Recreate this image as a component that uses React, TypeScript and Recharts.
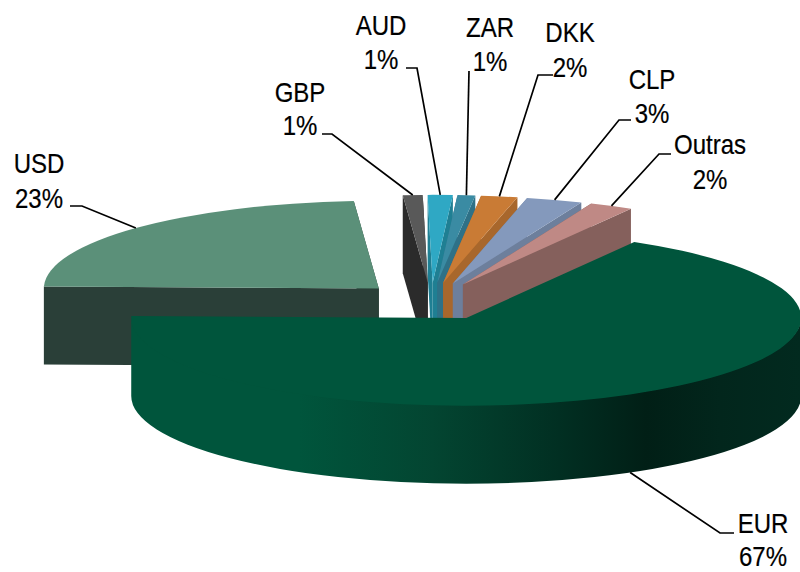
import React from "react";
import { PieChart, Pie } from "recharts";

const CURRENCIES = ["USD", "GBP", "AUD", "ZAR", "DKK", "CLP", "Outras", "EUR"];
const SHARES = [23.45, 0.95, 1.2, 0.85, 1.75, 2.7, 2.1, 67];
const TOP_COLORS = ["#5b9079", "#595959", "#2fa8c4", "#3a8ba3", "#c97b35", "#8499bc", "#bf8985", "#00553c"];
const WALL_COLORS = ["#2a3f38", "#2b2b2b", "#1f7f93", "#2e7187", "#a8672c", "#6d7f9c", "#85605c", "#02261b"];

const tableData = CURRENCIES.map((name, i) => ({
  name,
  value: SHARES[i],
  top: TOP_COLORS[i],
  wall: WALL_COLORS[i],
}));

// Projection of the tilted, exploded pie
const TILT = 0.262;
const EXPLODE = 72;
const DEPTH = 78;
const FONT = "'Liberation Sans', Arial, sans-serif";
const FONT_SIZE = 27;
const TEXT_SQUEEZE = 0.89;

// Label placement: two text baselines and the leader elbow
const LABEL_LAYOUT: Record<string, { x: number; y1: number; y2: number; line: number[][] }> = {
  USD: { x: 39, y1: 173, y2: 208, line: [[70, 206], [82, 206]] },
  GBP: { x: 300, y1: 102, y2: 135, line: [[322, 134], [332, 134]] },
  AUD: { x: 381, y1: 35, y2: 69, line: [[406, 68], [417, 68]] },
  ZAR: { x: 490, y1: 37, y2: 71, line: [[469, 71]] },
  DKK: { x: 570, y1: 42, y2: 77, line: [[553, 75], [538, 75]] },
  CLP: { x: 652, y1: 89, y2: 123, line: [[631, 120], [619, 120]] },
  Outras: { x: 710, y1: 154, y2: 189, line: [[671, 154], [659, 154]] },
  EUR: { x: 763, y1: 533, y2: 566, line: [[734, 533], [720, 533]] },
};

const rad = (d: number) => (d * Math.PI) / 180;

function frame(cx: number, cy: number, r: number, startAngle: number, endAngle: number) {
  const lo = Math.min(startAngle, endAngle);
  const hi = Math.max(startAngle, endAngle);
  const mid = rad((lo + hi) / 2);
  const ox = cx + EXPLODE * Math.cos(mid);
  const oy = cy - EXPLODE * TILT * Math.sin(mid);
  const pt = (deg: number, dy = 0) => ({
    x: ox + r * Math.cos(rad(deg)),
    y: oy - r * TILT * Math.sin(rad(deg)) + dy,
  });
  return { lo, hi, ox, oy, pt, ry: r * TILT };
}

function Slice3D(props: any) {
  const { cx, cy, outerRadius: r, startAngle, endAngle, payload } = props;
  const top = payload?.top ?? props.top;
  const wall = payload?.wall ?? props.wall;
  const name = payload?.name ?? props.name;
  const { lo, hi, ox, oy, pt, ry } = frame(cx, cy, r, startAngle, endAngle);

  const radial = (deg: number) => {
    const p = pt(deg);
    return `M${ox},${oy} L${p.x},${p.y} L${p.x},${p.y + DEPTH} L${ox},${oy + DEPTH} Z`;
  };

  const a = pt(lo);
  const b = pt(hi);
  const large = hi - lo > 180 ? 1 : 0;
  const topPath = `M${ox},${oy} L${a.x},${a.y} A${r},${ry} 0 ${large} 0 ${b.x},${b.y} Z`;

  // Outer rim: the part of the arc facing the viewer (angles below zero).
  // Its upper edge sits one pixel under the top face so no seam shows through.
  let rim: string | null = null;
  const from = Math.max(lo, -180);
  const to = Math.min(hi, 0);
  if (to > from) {
    const p = pt(from, -1);
    const q = pt(to, -1);
    const pb = pt(from, DEPTH);
    const qb = pt(to, DEPTH);
    rim = `M${p.x},${p.y} A${r},${ry} 0 0 0 ${q.x},${q.y} L${qb.x},${qb.y} A${r},${ry} 0 0 1 ${pb.x},${pb.y} Z`;
  }

  const midDeg = (lo + hi) / 2;
  const isEur = name === "EUR";
  const wallOrder = midDeg > 90 ? [lo, hi] : [hi, lo];

  return (
    <g>
      {isEur && (
        <defs>
          <linearGradient id="eurWall" gradientUnits="userSpaceOnUse" x1={132} x2={800} y1={0} y2={0}>
            <stop offset="0" stopColor="#00553c" />
            <stop offset="0.25" stopColor="#00553c" />
            <stop offset="0.45" stopColor="#034531" />
            <stop offset="0.64" stopColor="#012f22" />
            <stop offset="0.77" stopColor="#011f16" />
            <stop offset="0.88" stopColor="#02261c" />
            <stop offset="1" stopColor="#022a1f" />
          </linearGradient>
        </defs>
      )}
      {!isEur && wallOrder.map((deg) => <path key={deg} d={radial(deg)} fill={wall} />)}
      {rim && <path d={rim} fill={isEur ? "url(#eurWall)" : wall} />}
      <path d={topPath} fill={top} />
    </g>
  );
}

function renderLabel(props: any) {
  const { cx, cy, outerRadius: r, startAngle, endAngle, payload, value } = props;
  const name = payload?.name ?? props.name;
  const layout = LABEL_LAYOUT[name];
  if (!layout) return null;
  const { lo, hi, pt } = frame(cx, cy, r, startAngle, endAngle);
  const midDeg = (lo + hi) / 2;
  const isFront = Math.sin(rad(midDeg)) < 0;
  const end = pt(midDeg, isFront ? DEPTH : 0);
  const points = [...layout.line, [end.x, end.y]].map((p) => p.join(",")).join(" ");
  const textStyle = { fontFamily: FONT, fontSize: FONT_SIZE, fill: "#000", stroke: "#000", strokeWidth: 0.2 };
  const squeeze = `translate(${layout.x} 0) scale(${TEXT_SQUEEZE} 1)`;
  return (
    <g>
      <polyline points={points} fill="none" stroke="#000" strokeWidth={1.7} />
      <text x={0} y={layout.y1} transform={squeeze} textAnchor="middle" style={textStyle}>{name}</text>
      <text x={0} y={layout.y2} transform={squeeze} textAnchor="middle" style={textStyle}>{`${Math.round(value)}%`}</text>
    </g>
  );
}

export default function App() {
  return (
    <div style={{ position: "absolute", left: 0, top: 0, width: 800, height: 572, background: "#fff", overflow: "hidden" }}>
      <PieChart width={800} height={572} margin={{ top: 0, right: 0, bottom: 0, left: 0 }}>
        <Pie
          data={tableData}
          dataKey="value"
          nameKey="name"
          cx={431}
          cy={301.5}
          innerRadius={0}
          outerRadius={335}
          startAngle={178.7}
          endAngle={-181.3}
          stroke="none"
          shape={Slice3D}
          label={renderLabel}
          labelLine={false}
          isAnimationActive={false}
        />
      </PieChart>
    </div>
  );
}
